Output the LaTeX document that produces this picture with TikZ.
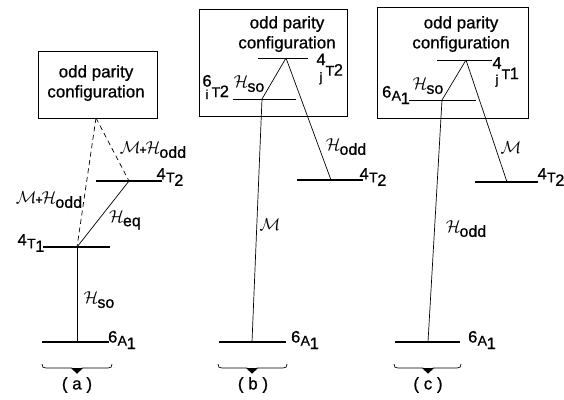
\documentclass[tikz,border=0pt]{standalone}
\usepackage{fontspec}
\setmainfont{Liberation Sans}[RawFeature={embolden=0.8}]
\newcommand\fs[1]{\fontsize{#1}{#1}\selectfont}
\newcommand\boxfont{\fontsize{17}{20}\selectfont}
\newcommand\calH{$\mathcal{H}$}
\newcommand\calM{$\mathcal{M}$}
\newcommand\Hsub[1]{{\fs{19}\calH}\kern-1pt\raisebox{-4pt}{\fs{16}#1}}
\newcommand\Lterm[3]{\raisebox{3pt}{#1}\kern0.3pt{\fs{14}#2}\kern-0.3pt\raisebox{-3.5pt}{#3}}
\newcommand\Jterm[5]{\makebox[8pt][c]{\raisebox{10.5pt}{#1}}\kern-8pt\makebox[8pt][c]{\raisebox{-#5}{\fs{13}#2}}\kern0.5pt{\fs{14}#3}\kern-0.3pt#4}
\newcommand\MH{{\fs{19}\calM}\kern-1pt{\fs{12}+}\kern-1pt\Hsub{odd}}
\tikzset{
  level/.style={line width=2.6pt},
  thinlevel/.style={line width=0.8pt},
  conn/.style={line width=0.7pt},
  dconn/.style={conn, dash pattern=on 5pt off 3.5pt},
  box/.style={draw, line width=1.1pt, inner sep=0pt},
  boxtxt/.style={align=center, font=\boxfont, inner sep=0pt},
  lbl/.style={font=\fs{16.5}, inner sep=0pt},
  brace/.style={line width=0.7pt},
  captxt/.style={font=\fs{17}, inner sep=0pt}
}
\begin{document}
\begin{tikzpicture}[x=1pt,y=-1pt]
\useasboundingbox (0,0) rectangle (564,399);
% ---------------- panel (a)
\node[box, minimum width=119pt, minimum height=67pt, anchor=north west] (boxa) at (38,51) {};
\node[boxtxt] (ta) at (96,83) {odd parity\\configuration};
\coordinate (Ba) at (96,118);
\coordinate (T2aL) at (96,181); \coordinate (T2aR) at (162,181); \coordinate (P2a) at (129,181);
\coordinate (T1aL) at (43,247); \coordinate (T1aR) at (110,247); \coordinate (P1a) at (77,247);
\coordinate (GaL) at (42,342); \coordinate (GaR) at (109,342); \coordinate (Ga) at (77,342);
\draw[level] (T2aL) -- (T2aR);
\draw[level] (T1aL) -- (T1aR);
\draw[level] (GaL) -- (GaR);
\draw[dconn] (Ba) -- (P1a);
\draw[dconn] (Ba) -- (P2a);
\draw[conn] (P1a) -- (P2a);
\draw[conn] (P1a) -- (Ga);
\node[lbl] (la1) at (153,150) {\MH};
\node[lbl] (la2) at (49,200) {\MH};
\node[lbl] (la3) at (170,177) {\Lterm{4}{T}{2}};
\node[lbl] (la4) at (31,243) {\Lterm{4}{T}{1}};
\node[lbl] (la5) at (125,220) {\Hsub{eq}};
\node[lbl] (la6) at (99,300) {\Hsub{so}};
\node[lbl] (la7) at (122,340) {\Lterm{6}{A}{1}};
\draw[brace] (42,364) .. controls (42,367) and (43,368) .. (46,368) -- (72,368) -- (77,373) -- (82,368) -- (108,368) .. controls (111,368) and (112,367) .. (112,364);
\fill (71,368) -- (77,373.5) -- (83,368) -- cycle;
\node[captxt] (ca) at (77,385) {( a )};
% ---------------- panel (b)
\node[box, minimum width=148pt, minimum height=107pt, anchor=north west] (boxb) at (199,9) {};
\node[boxtxt] (tb) at (287,34) {odd parity\\configuration};
\coordinate (UbL) at (258,58); \coordinate (UbR) at (308,58); \coordinate (Ub) at (286,58);
\coordinate (LbL) at (233,99); \coordinate (LbR) at (296,99); \coordinate (Lb) at (262,99);
\coordinate (RbL) at (297,180); \coordinate (RbR) at (363,180); \coordinate (Rb) at (331,180);
\coordinate (GbL) at (219,342); \coordinate (GbR) at (286,342); \coordinate (Gb) at (252,342);
\draw[thinlevel] (UbL) -- (UbR);
\draw[thinlevel] (LbL) -- (LbR);
\draw[level] (RbL) -- (RbR);
\draw[level] (GbL) -- (GbR);
\draw[conn] (Lb) -- (Ub);
\draw[conn] (Ub) -- (Rb);
\draw[conn] (Lb) -- (Gb);
\node[lbl] (lb1) at (330,69) {\Jterm{4}{j}{T}{2}{6pt}};
\node[lbl] (lb2) at (216,87) {\Jterm{6}{i}{T}{2}{2pt}};
\node[lbl] (lb3) at (249,84) {\Hsub{so}};
\node[lbl] (lb4) at (346,147) {\Hsub{odd}};
\node[lbl] (lb5) at (373,177) {\Lterm{4}{T}{2}};
\node[lbl] (lb6) at (270,225) {\fs{19}\calM};
\node[lbl] (lb7) at (305,340) {\Lterm{6}{A}{1}};
\draw[brace] (218,364) .. controls (218,367) and (219,368) .. (222,368) -- (247,368) -- (252,373) -- (257,368) -- (283,368) .. controls (286,368) and (287,367) .. (287,364);
\fill (246,368) -- (252,373.5) -- (258,368) -- cycle;
\node[captxt] (cb) at (253,385) {( b )};
% ---------------- panel (c)
\node[box, minimum width=151pt, minimum height=111pt, anchor=north west] (boxc) at (377,7) {};
\node[boxtxt] (tc) at (461,34) {odd parity\\configuration};
\coordinate (UcL) at (437,60); \coordinate (UcR) at (492,60); \coordinate (Uc) at (466,60);
\coordinate (LcL) at (409,100); \coordinate (LcR) at (476,100); \coordinate (Lc) at (442,100);
\coordinate (RcL) at (475,182); \coordinate (RcR) at (538,182); \coordinate (Rc) at (507,182);
\coordinate (GcL) at (395,342); \coordinate (GcR) at (460,342); \coordinate (Gc) at (428,342);
\draw[thinlevel] (UcL) -- (UcR);
\draw[thinlevel] (LcL) -- (LcR);
\draw[level] (RcL) -- (RcR);
\draw[level] (GcL) -- (GcR);
\draw[conn] (Lc) -- (Uc);
\draw[conn] (Uc) -- (Rc);
\draw[conn] (Lc) -- (Gc);
\node[lbl] (lc1) at (506,72) {\Jterm{4}{j}{T}{1}{5pt}};
\node[lbl] (lc2) at (396,95) {\Lterm{6}{A}{1}};
\node[lbl] (lc3) at (428,86) {\Hsub{so}};
\node[lbl] (lc4) at (511,148) {\fs{19}\calM};
\node[lbl] (lc5) at (551,177) {\Lterm{4}{T}{2}};
\node[lbl] (lc6) at (466,229) {\Hsub{odd}};
\node[lbl] (lc7) at (482,340) {\Lterm{6}{A}{1}};
\draw[brace] (394,364) .. controls (394,367) and (395,368) .. (398,368) -- (423,368) -- (428,373) -- (433,368) -- (457,368) .. controls (460,368) and (461,367) .. (461,364);
\fill (422,368) -- (428,373.5) -- (434,368) -- cycle;
\node[captxt] (cc) at (428,385) {( c )};
\end{tikzpicture}
\end{document}
